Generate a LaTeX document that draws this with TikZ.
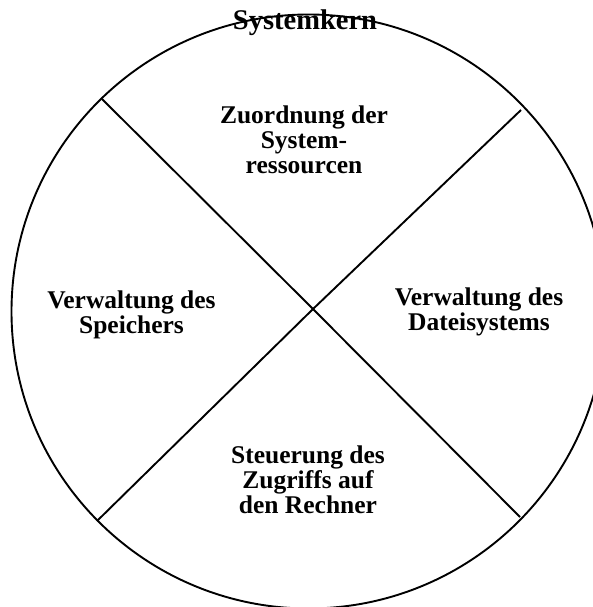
\documentclass[tikz,border=0pt]{standalone}
\usepackage{fontspec}
\setmainfont{Liberation Serif}
\begin{document}
\begin{tikzpicture}[x=1pt,y=-1pt,
  rim/.style={line width=1.9pt},
  divider/.style={line width=1.9pt},
  sector/.style={font=\bfseries\fontsize{25.5}{25}\selectfont, align=center, inner sep=0pt},
  title/.style={font=\bfseries\fontsize{28.5}{30}\selectfont, inner sep=0pt, anchor=base}]
\useasboundingbox (0,0) rectangle (593,607);
\clip (0,0) rectangle (593,607);
% circle
\coordinate (c) at (308.5,311.5);
\draw[rim] (c) circle[radius=297];
% divider end points and crossing
\coordinate (x) at (313,309);
\coordinate (ul) at (102,99);
\coordinate (ur) at (521,110);
\coordinate (ll) at (97,521);
\coordinate (lr) at (520,517);
\draw[divider] (ul) -- (x) -- (lr);
\draw[divider] (ur) -- (x) -- (ll);
% labels
\node[title] (kern) at (305,30) {Systemkern};
\node[sector] (top) at (304,139.5) {Zuordnung der\\System-\\ressourcen};
\node[sector] (left) at (131.5,314.6) {Verwaltung des\\Speichers};
\node[sector] (right) at (479,311.6) {Verwaltung des\\Dateisystems};
\node[sector] (bottom) at (308,479.4) {Steuerung des\\Zugriffs auf\\den Rechner};
\end{tikzpicture}
\end{document}
